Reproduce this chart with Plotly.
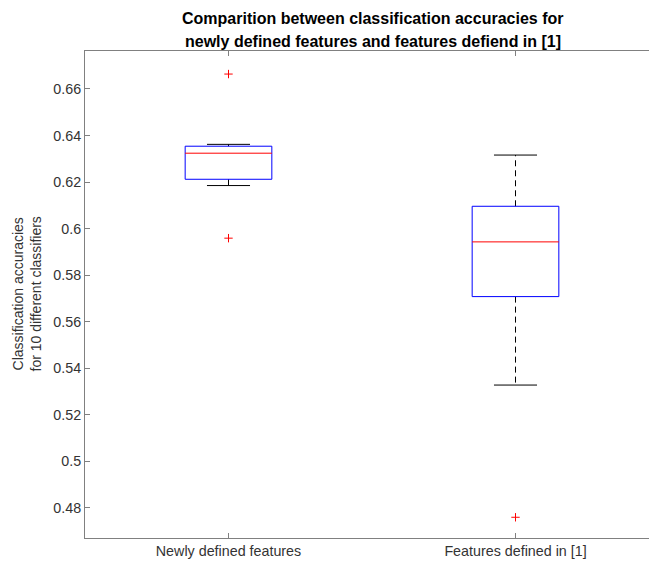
import plotly.graph_objects as go

categories = ["Newly defined features", "Features defined in [1]"]
positions = [1, 2]
q1 = [0.6212, 0.5708]
median = [0.6324, 0.5943]
q3 = [0.6354, 0.6096]
whisker_low = [0.6185, 0.5328]
whisker_high = [0.6362, 0.6316]
outliers = [[0.6664, 0.5959], [0.4760]]

y_ticks = [0.48, 0.50, 0.52, 0.54, 0.56, 0.58, 0.60, 0.62, 0.64, 0.66]
y_tick_labels = ["0.48", "0.5", "0.52", "0.54", "0.56", "0.58", "0.6", "0.62", "0.64", "0.66"]
title_lines = ["Comparition between classification accuracies for",
               "newly defined features and features defiend in [1]"]

BOX_HALF = 0.151
CAP_HALF = 0.075
FONT = "Liberation Sans, Arial, Helvetica, sans-serif"
PLOT_TOP, PLOT_H = 51, 487

fig = go.Figure()
for i, p in enumerate(positions):
    fig.add_trace(go.Scatter(x=[p, p], y=[q3[i], whisker_high[i]], mode="lines",
                             line=dict(color="#000000", width=1, dash="6px,4px"),
                             showlegend=False, hoverinfo="skip"))
    fig.add_trace(go.Scatter(x=[p, p], y=[q1[i], whisker_low[i]], mode="lines",
                             line=dict(color="#000000", width=1, dash="6px,4px"),
                             showlegend=False, hoverinfo="skip"))
    for w in (whisker_high[i], whisker_low[i]):
        fig.add_trace(go.Scatter(x=[p - CAP_HALF, p + CAP_HALF], y=[w, w], mode="lines",
                                 line=dict(color="#000000", width=1),
                                 showlegend=False, hoverinfo="skip"))
    fig.add_trace(go.Scatter(x=[p - BOX_HALF, p + BOX_HALF, p + BOX_HALF, p - BOX_HALF, p - BOX_HALF],
                             y=[q1[i], q1[i], q3[i], q3[i], q1[i]], mode="lines",
                             line=dict(color="#0000ff", width=1),
                             showlegend=False, hoverinfo="skip"))
    fig.add_trace(go.Scatter(x=[p - BOX_HALF, p + BOX_HALF], y=[median[i], median[i]], mode="lines",
                             line=dict(color="#ff0000", width=1),
                             showlegend=False, hoverinfo="skip"))
    fig.add_trace(go.Scatter(x=[p] * len(outliers[i]), y=outliers[i], mode="markers",
                             marker=dict(symbol="cross-thin", size=6,
                                         line=dict(color="#ff0000", width=1)),
                             showlegend=False, hoverinfo="skip"))

annotations = [dict(text="Classification accuracies<br>for 10 different classifiers",
                    textangle=-90, x=-(85 - 26) / 564, xref="paper", xanchor="center",
                    y=0.5, yref="paper", yanchor="middle", showarrow=False,
                    font=dict(family=FONT, size=14, color="#333333"))]
for k, (txt, ypx) in enumerate(zip(title_lines, [19, 41])):
    annotations.append(dict(text="<b>" + txt + "</b>", x=0.5098, xref="paper", xanchor="center",
                            y=1 + (PLOT_TOP - ypx) / PLOT_H, yref="paper", yanchor="middle",
                            showarrow=False, font=dict(family=FONT, size=16, color="#000000")))

fig.update_layout(
    width=649, height=561,
    margin=dict(l=85, r=0, t=51, b=23),
    paper_bgcolor="white", plot_bgcolor="white",
    font=dict(family=FONT, size=14, color="#333333"),
    xaxis=dict(range=[0.5, 0.5 + 564 / 287], tickvals=positions, ticktext=categories,
               showgrid=False, zeroline=False, showline=True, linecolor="#808080", linewidth=1,
               mirror="ticks", ticks="inside", ticklen=5, tickcolor="#808080",
               tickfont=dict(size=14.3, color="#333333")),
    yaxis=dict(range=[0.4671, 0.6763], tickvals=y_ticks, ticktext=y_tick_labels,
               showgrid=False, zeroline=False, showline=True, linecolor="#808080", linewidth=1,
               ticks="inside", ticklen=5, tickcolor="#808080",
               tickfont=dict(size=14.3, color="#333333")),
    annotations=annotations,
)

fig.write_html("out.html")
